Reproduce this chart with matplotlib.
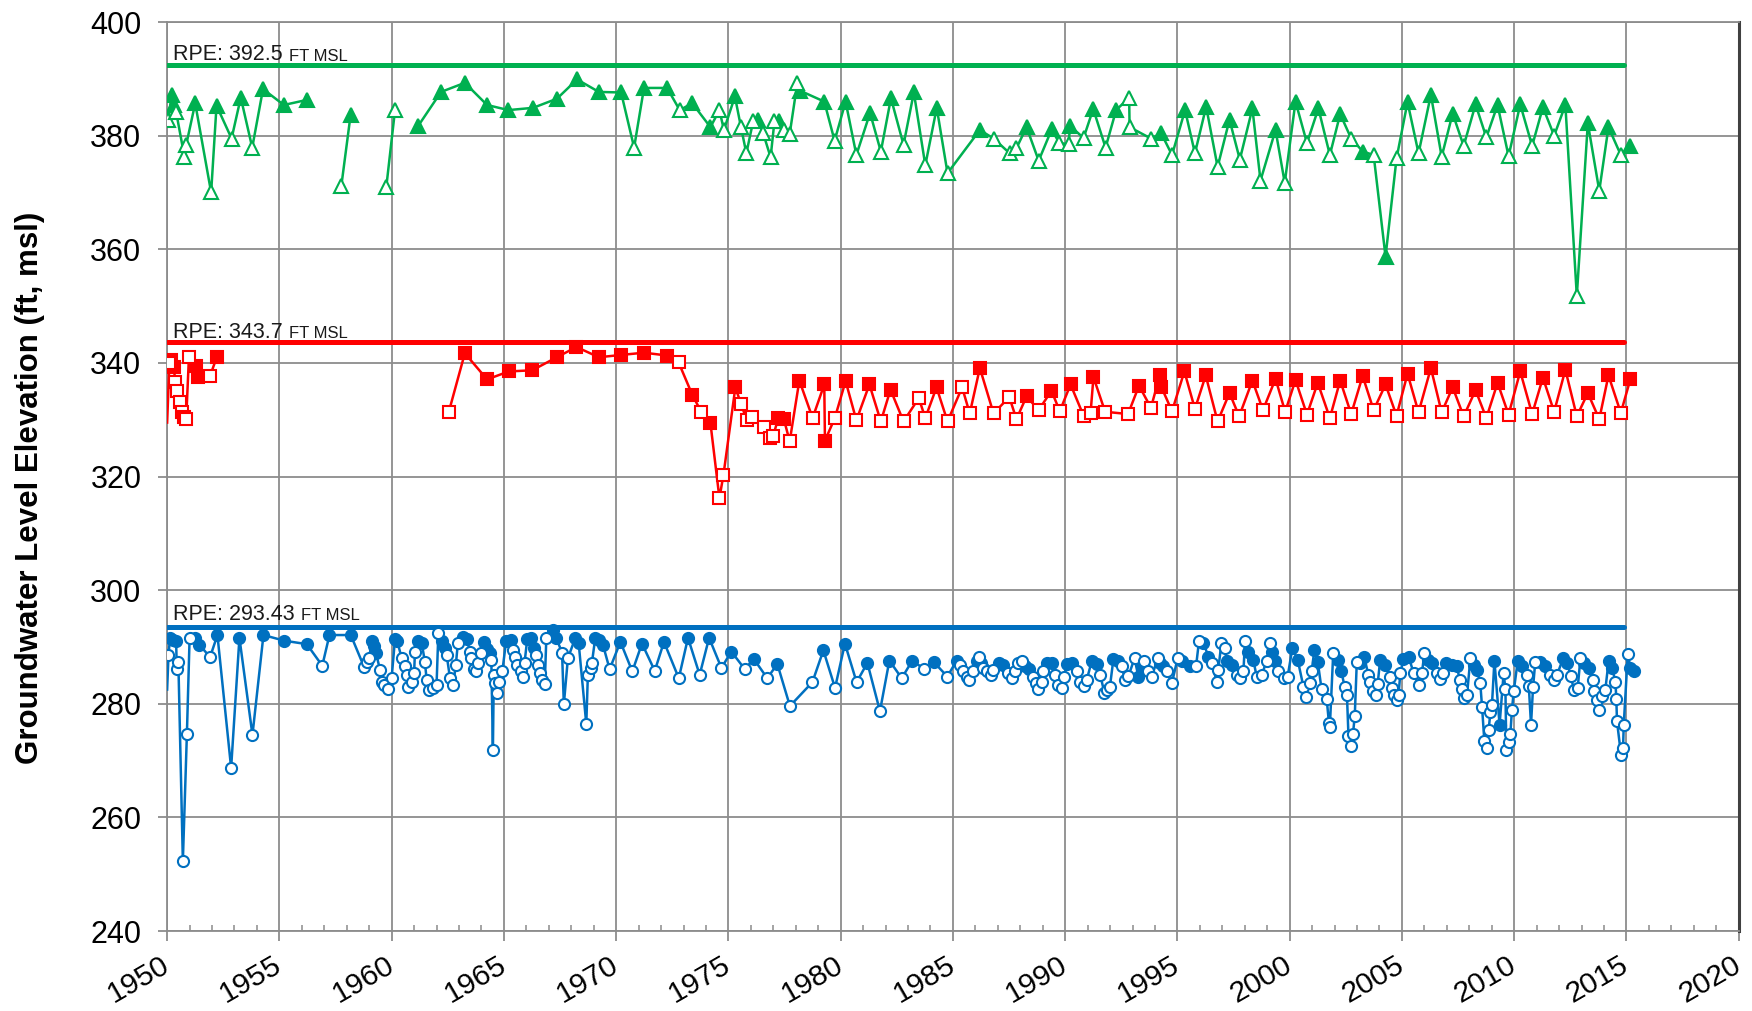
import numpy as np
import matplotlib
matplotlib.use("Agg")
import matplotlib.pyplot as plt
from matplotlib.ticker import MultipleLocator

plt.rcParams['font.family'] = ['Liberation Sans', 'DejaVu Sans']

# ---------------- data ----------------
NaN = float('nan')

green_year = [1950.05, 1950.2, 1950.3, 1950.4, 1950.77, 1950.85, 1951.25, 1951.96, 1952.2, 1952.87,
              1953.28, 1953.79, 1954.27, 1955.2, 1956.23, 1957.0,
              1957.76, 1958.17, 1959.0,
              1959.76, 1960.15, 1960.7,
              1961.18, 1962.2, 1963.26, 1964.25, 1965.2, 1966.3, 1967.36, 1968.26, 1969.23, 1970.22,
              1970.8, 1971.24, 1972.27, 1972.83, 1973.39, 1974.2, 1974.6, 1974.8, 1975.29, 1975.56,
              1975.8, 1976.1, 1976.3, 1976.55, 1976.88, 1977.05, 1977.27, 1977.47, 1977.73, 1978.07,
              1978.2, 1979.27, 1979.73, 1980.22, 1980.7, 1981.31, 1981.79, 1982.24, 1982.8, 1983.26,
              1983.77, 1984.28, 1984.76, 1986.2, 1986.81, 1987.53, 1987.83, 1988.28, 1988.82, 1989.4,
              1989.74, 1990.15, 1990.22, 1990.82, 1991.25, 1991.8, 1992.27, 1992.85, 1992.87, 1993.82,
              1994.28, 1994.76, 1995.34, 1995.78, 1996.28, 1996.79, 1997.32, 1997.78, 1998.34, 1998.7,
              1999.37, 1999.78, 2000.26, 2000.77, 2001.28, 2001.79, 2002.25, 2002.74, 2003.26, 2003.74,
              2004.27, 2004.76, 2005.25, 2005.74, 2006.29, 2006.77, 2007.26, 2007.75, 2008.28, 2008.76,
              2009.26, 2009.75, 2010.27, 2010.8, 2011.28, 2011.78, 2012.28, 2012.79, 2013.28, 2013.79,
              2014.2, 2014.75, 2015.18]
green_val = [382.8, 387.2, 385.4, 384.2, 376.3, 378.4, 385.7, 370.0, 385.3, 379.5,
             386.7, 377.9, 388.2, 385.4, 386.3, NaN,
             371.2, 383.6, NaN,
             370.9, 384.5, NaN,
             381.7, 387.7, 389.3, 385.4, 384.5, 384.9, 386.5, 389.9, 387.7, 387.6,
             377.9, 388.4, 388.4, 384.5, 385.7, 381.5, 384.5, 381.0, 386.9, 381.5,
             376.9, 382.5, 382.8, 380.4, 376.2, 382.5, 382.6, 381.0, 380.3, 389.3,
             387.9, 386.0, 379.1, 386.0, 376.6, 384.0, 377.2, 386.6, 378.4, 387.6,
             374.8, 384.9, 373.4, 381.0, 379.5, 376.9, 377.8, 381.5, 375.6, 381.1,
             378.7, 378.5, 381.7, 379.6, 384.7, 377.9, 384.5, 386.7, 381.5, 379.5,
             380.4, 376.6, 384.5, 376.9, 385.1, 374.5, 382.8, 375.8, 384.8, 372.1,
             381.0, 371.7, 386.0, 378.7, 384.8, 376.6, 383.8, 379.5, 377.2, 376.6,
             358.7, 376.0, 385.9, 376.9, 387.2, 376.3, 383.9, 378.2, 385.5, 379.7,
             385.4, 376.4, 385.5, 378.2, 385.0, 380.0, 385.4, 351.8, 382.2, 370.3,
             381.5, 376.6, 378.2]
# 1 = filled marker, 0 = open marker, -1 = no marker
green_fill = [0, 1, 1, 0, 0, 0, 1, 0, 1, 0,
              1, 0, 1, 1, 1, 0,
              0, 1, 0,
              0, 0, 0,
              1, 1, 1, 1, 1, 1, 1, 1, 1, 1,
              0, 1, 1, 0, 1, 1, 0, 0, 1, 0,
              0, 0, 1, 0, 0, 0, 1, 0, 0, 0,
              1, 1, 0, 1, 0, 1, 0, 1, 0, 1,
              0, 1, 0, 1, 0, 0, 0, 1, 0, 1,
              0, 0, 1, 0, 1, 0, 1, 0, 0, 0,
              1, 0, 1, 0, 1, 0, 1, 0, 1, 0,
              1, 0, 1, 0, 1, 0, 1, 0, 1, 0,
              1, 0, 1, 0, 1, 0, 1, 0, 1, 0,
              1, 0, 1, 0, 1, 0, 1, 0, 1, 0,
              1, 0, 1]

red_year = [1950.0, 1950.1, 1950.17, 1950.3, 1950.36, 1950.46, 1950.58, 1950.68, 1950.77, 1950.85,
            1950.97, 1951.28, 1951.37, 1951.91, 1952.22, 1957.0,
            1962.54, 1963.26, 1964.25, 1965.22, 1966.26, 1967.36, 1968.23, 1969.23, 1970.22, 1971.24,
            1972.27, 1972.78, 1973.39, 1973.8, 1974.2, 1974.6, 1974.78, 1975.31, 1975.56, 1975.82,
            1976.03, 1976.57, 1976.84, 1977.0, 1977.22, 1977.47, 1977.73, 1978.16, 1978.75, 1979.27,
            1979.3, 1979.74, 1980.22, 1980.7, 1981.28, 1981.79, 1982.22, 1982.8, 1983.48, 1983.77,
            1984.27, 1984.76, 1985.41, 1985.75, 1986.2, 1986.81, 1987.51, 1987.83, 1988.28, 1988.82,
            1989.39, 1989.76, 1990.24, 1990.82, 1991.13, 1991.26, 1991.78, 1992.8, 1993.29, 1993.82,
            1994.22, 1994.28, 1994.76, 1995.31, 1995.78, 1996.26, 1996.79, 1997.32, 1997.75, 1998.34,
            1998.81, 1999.37, 1999.8, 2000.26, 2000.77, 2001.25, 2001.79, 2002.25, 2002.74, 2003.25,
            2003.74, 2004.27, 2004.76, 2005.25, 2005.74, 2006.29, 2006.77, 2007.26, 2007.75, 2008.28,
            2008.76, 2009.26, 2009.75, 2010.27, 2010.8, 2011.28, 2011.78, 2012.28, 2012.79, 2013.28,
            2013.79, 2014.2, 2014.75, 2015.18]
red_val = [329.5, 340.0, 340.5, 339.2, 336.7, 335.0, 333.1, 331.3, 330.5, 330.2,
           341.0, 339.4, 337.5, 337.7, 341.1, NaN,
           331.3, 341.7, 337.1, 338.5, 338.7, 341.0, 342.8, 341.0, 341.4, 341.8,
           341.3, 340.1, 334.4, 331.3, 329.4, 316.2, 320.3, 335.7, 332.8, 329.9,
           330.4, 328.8, 326.7, 327.2, 330.3, 330.1, 326.2, 336.9, 330.3, 336.2,
           326.3, 330.3, 336.8, 329.9, 336.2, 329.7, 335.3, 329.7, 333.8, 330.3,
           335.7, 329.7, 335.7, 331.1, 339.1, 331.1, 334.0, 330.1, 334.1, 331.7,
           335.1, 331.5, 336.2, 330.7, 331.1, 337.5, 331.4, 331.0, 336.0, 332.1,
           337.9, 335.8, 331.5, 338.5, 331.9, 337.8, 329.7, 334.7, 330.6, 336.9,
           331.7, 337.2, 331.4, 337.0, 330.9, 336.5, 330.3, 336.9, 331.0, 337.7,
           331.7, 336.2, 330.7, 338.1, 331.3, 339.1, 331.3, 335.7, 330.6, 335.2,
           330.3, 336.5, 330.9, 338.5, 331.0, 337.4, 331.4, 338.8, 330.6, 334.7,
           330.1, 337.8, 331.2, 337.2]
red_fill = [-1, 0, 1, 1, 0, 0, 0, 0, 0, 0,
            0, 1, 1, 0, 1, 0,
            0, 1, 1, 1, 1, 1, 1, 1, 1, 1,
            1, 0, 1, 0, 1, 0, 0, 1, 0, 0,
            0, 0, 0, 0, 1, 1, 0, 1, 0, 1,
            1, 0, 1, 0, 1, 0, 1, 0, 0, 0,
            1, 0, 0, 0, 1, 0, 0, 0, 1, 0,
            1, 0, 1, 0, 0, 1, 0, 0, 1, 0,
            1, 1, 0, 1, 0, 1, 0, 1, 0, 1,
            0, 1, 0, 1, 0, 1, 0, 1, 0, 1,
            0, 1, 0, 1, 0, 1, 0, 1, 0, 1,
            0, 1, 0, 1, 0, 1, 0, 1, 0, 1,
            0, 1, 0, 1]

blue_year = [1950.0, 1950.06, 1950.13, 1950.28, 1950.4, 1950.43, 1950.5, 1950.7, 1950.88, 1951.0,
             1951.25, 1951.44, 1951.91, 1952.24, 1952.85, 1953.22, 1953.8, 1954.29, 1955.22, 1956.22,
             1956.91, 1957.23, 1958.18, 1958.77, 1958.89, 1959.0, 1959.11, 1959.2, 1959.3, 1959.48,
             1959.55, 1959.66, 1959.85, 1960.0, 1960.15, 1960.25, 1960.45, 1960.6, 1960.67, 1960.74,
             1960.89, 1961.0, 1961.04, 1961.19, 1961.34, 1961.48, 1961.56, 1961.68, 1961.85, 1962.0,
             1962.08, 1962.23, 1962.37, 1962.45, 1962.6, 1962.74, 1962.86, 1962.95,
             1963.17, 1963.37, 1963.47, 1963.54, 1963.69, 1963.77, 1963.84, 1963.96, 1964.11, 1964.26,
             1964.36, 1964.44, 1964.51, 1964.55, 1964.62, 1964.7, 1964.8, 1964.93, 1965.1, 1965.3,
             1965.4, 1965.5, 1965.59, 1965.74, 1965.85, 1965.92, 1966.04, 1966.19, 1966.34, 1966.44,
             1966.52, 1966.6, 1966.7, 1966.82, 1966.89, 1967.18, 1967.33, 1967.59, 1967.67, 1967.85,
             1968.18, 1968.33, 1968.67, 1968.74, 1968.86, 1968.92, 1969.07, 1969.22, 1969.41, 1969.71,
             1970.19, 1970.72, 1971.15, 1971.72, 1972.13, 1972.79, 1973.2, 1973.72, 1974.14, 1974.69,
             1975.13, 1975.73, 1976.13, 1976.73, 1977.18, 1977.74, 1978.74, 1979.23, 1979.75, 1980.19,
             1980.71, 1981.19, 1981.75, 1982.17, 1982.72, 1983.19, 1983.73, 1984.16, 1984.75, 1985.17,
             1985.32, 1985.47, 1985.62, 1985.7, 1985.88, 1986.06, 1986.14, 1986.24, 1986.36, 1986.54,
             1986.69, 1986.8, 1987.07, 1987.25, 1987.47, 1987.62, 1987.77, 1987.92, 1988.07, 1988.22,
             1988.41, 1988.56, 1988.71, 1988.81, 1988.96, 1989.03, 1989.21, 1989.41, 1989.55, 1989.7,
             1989.85, 1989.97,
             1990.07, 1990.3, 1990.52, 1990.67, 1990.82, 1990.96, 1991.19, 1991.41, 1991.56, 1991.75,
             1991.85, 1991.99, 1992.15, 1992.34, 1992.52, 1992.67, 1992.82, 1993.09, 1993.26, 1993.41,
             1993.53, 1993.68, 1993.86, 1994.12, 1994.23, 1994.38, 1994.53, 1994.75, 1995.01, 1995.22,
             1995.56, 1995.83, 1995.96, 1996.16, 1996.38, 1996.53, 1996.75, 1996.82, 1996.96, 1997.11,
             1997.2, 1997.42, 1997.64, 1997.79, 1997.94, 1998.01, 1998.16, 1998.38, 1998.53, 1998.75,
             1998.98, 1999.12, 1999.2, 1999.35, 1999.5, 1999.76, 1999.91, 2000.12, 2000.36, 2000.61,
             2000.71, 2000.9, 2000.98, 2001.1, 2001.25, 2001.42, 2001.65, 2001.75, 2001.79, 2001.94,
             2002.17, 2002.3, 2002.45, 2002.55, 2002.62, 2002.72, 2002.82, 2002.9, 2002.99,
             2003.14, 2003.32, 2003.51, 2003.58, 2003.73, 2003.86, 2003.92, 2004.03, 2004.26, 2004.48,
             2004.55, 2004.66, 2004.78, 2004.85, 2004.93, 2005.07, 2005.3, 2005.52, 2005.74, 2005.89,
             2006.0, 2006.14, 2006.34, 2006.56, 2006.71, 2006.83, 2006.98, 2007.23, 2007.45, 2007.57,
             2007.67, 2007.78, 2007.9, 2008.05, 2008.19, 2008.34, 2008.49, 2008.57, 2008.67, 2008.77,
             2008.86, 2008.94, 2009.01, 2009.12, 2009.35, 2009.53, 2009.61, 2009.65, 2009.75, 2009.83,
             2009.9, 2009.98, 2010.16, 2010.35, 2010.57, 2010.65, 2010.75, 2010.84, 2010.94, 2011.17,
             2011.39, 2011.61, 2011.76, 2011.91, 2012.18, 2012.35, 2012.53, 2012.65, 2012.83, 2012.95,
             2013.13, 2013.32, 2013.51, 2013.57, 2013.69, 2013.77, 2013.92, 2014.06, 2014.21, 2014.36,
             2014.51, 2014.55, 2014.58, 2014.76, 2014.85, 2014.88, 2015.06, 2015.18, 2015.33]
blue_val = [282.5, 288.6, 291.6, 291.3, 291.0, 286.1, 287.3, 252.3, 274.7, 291.6,
            291.6, 290.4, 288.2, 292.1, 268.7, 291.6, 274.5, 292.1, 291.1, 290.5,
            286.7, 292.1, 292.1, 286.5, 287.4, 288.0, 291.0, 290.2, 289.0, 286.0,
            283.9, 283.3, 282.6, 284.6, 291.4, 291.0, 288.0, 286.6, 285.1, 283.0,
            283.9, 285.5, 289.2, 291.1, 290.7, 287.4, 284.2, 282.5, 282.8, 283.3,
            292.4, 291.0, 289.8, 288.6, 284.5, 283.3, 286.9, 290.7,
            291.8, 291.4, 289.2, 288.0, 286.2, 285.7, 287.2, 288.9, 290.8, 289.6,
            288.9, 287.7, 271.8, 285.1, 283.6, 281.9, 283.9, 285.7, 291.1, 291.2,
            289.5, 288.3, 286.9, 285.7, 284.8, 287.2, 291.4, 291.6, 289.8, 288.6,
            286.9, 285.4, 284.2, 283.5, 291.6, 293.0, 291.6, 289.0, 279.9, 288.0,
            291.6, 290.7, 276.4, 285.1, 286.3, 287.2, 291.6, 291.3, 290.4, 286.1,
            290.9, 285.7, 290.6, 285.8, 290.9, 284.5, 291.6, 285.1, 291.6, 286.3,
            289.2, 286.1, 287.9, 284.5, 287.0, 279.6, 283.8, 289.4, 282.8, 290.6,
            283.8, 287.2, 278.7, 287.6, 284.5, 287.6, 286.1, 287.3, 284.8, 287.6,
            286.9, 285.7, 284.8, 284.2, 285.7, 287.6, 288.3, 287.2, 286.3, 285.7,
            285.1, 286.0, 287.2, 286.9, 285.4, 284.5, 285.7, 287.2, 287.5, 286.6,
            286.1, 284.8, 283.6, 282.6, 283.9, 285.7, 287.2, 287.2, 285.1, 283.3,
            282.8, 284.8,
            287.0, 287.2, 285.7, 283.9, 283.2, 284.2, 287.6, 287.0, 285.1, 281.9,
            282.5, 282.9, 287.9, 287.6, 286.6, 284.2, 284.9, 288.0, 284.8, 286.6,
            287.5, 285.7, 284.8, 288.0, 287.2, 286.6, 285.7, 283.6, 288.0, 287.5,
            286.6, 286.6, 291.0, 290.7, 288.3, 287.2, 283.9, 286.0, 290.7, 289.8,
            287.5, 286.9, 285.1, 284.5, 285.7, 291.0, 289.2, 287.7, 284.8, 285.1,
            287.5, 290.7, 289.2, 287.5, 285.7, 284.5, 284.8, 289.8, 287.7, 283.0,
            281.2, 283.6, 285.7, 289.5, 287.4, 282.6, 280.8, 276.6, 276.0, 288.9,
            287.7, 285.7, 283.0, 281.6, 274.3, 272.6, 274.7, 277.9, 287.4,
            287.2, 288.2, 285.1, 283.9, 282.3, 281.6, 283.5, 287.7, 286.9, 284.8,
            282.8, 281.6, 280.7, 281.6, 285.4, 287.9, 288.3, 285.4, 283.3, 285.4,
            288.9, 287.7, 287.2, 285.4, 284.3, 285.4, 287.2, 286.9, 286.7, 284.2,
            282.6, 281.0, 281.6, 288.0, 286.9, 286.0, 283.6, 279.4, 273.5, 272.3,
            275.3, 278.5, 279.8, 287.6, 276.3, 285.4, 282.6, 271.9, 273.2, 274.7,
            278.9, 282.2, 287.6, 286.6, 285.1, 283.2, 276.3, 282.9, 287.4, 287.4,
            286.6, 285.1, 284.2, 285.1, 288.0, 287.2, 284.9, 282.5, 282.8, 288.0,
            287.2, 286.3, 284.1, 282.2, 280.7, 278.9, 281.3, 282.5, 287.6, 286.3,
            283.9, 280.8, 276.9, 271.0, 272.2, 276.3, 288.8, 286.3, 285.7]
blue_fill = [-1, 0, 1, 1, 1, 0, 0, 0, 0, 0,
             1, 1, 0, 1, 0, 1, 0, 1, 1, 1,
             0, 1, 1, 0, 0, 0, 1, 1, 1, 0,
             0, 0, 0, 0, 1, 1, 0, 0, 0, 0,
             0, 0, 0, 1, 1, 0, 0, 0, 0, 0,
             0, 1, 1, 0, 0, 0, 0, 0,
             1, 1, 0, 0, 0, 0, 0, 0, 1, 1,
             1, 0, 0, 0, 0, 0, 0, 0, 1, 1,
             0, 0, 0, 0, 0, 0, 1, 1, 1, 0,
             0, 0, 0, 0, 0, 1, 1, 0, 0, 0,
             1, 1, 0, 0, 0, 0, 1, 1, 1, 0,
             1, 0, 1, 0, 1, 0, 1, 0, 1, 0,
             1, 0, 1, 0, 1, 0, 0, 1, 0, 1,
             0, 1, 0, 1, 0, 1, 0, 1, 0, 1,
             0, 0, 0, 0, 0, 1, 0, 1, 0, 0,
             0, 0, 1, 1, 0, 0, 0, 0, 0, 1,
             1, 0, 0, 0, 0, 0, 1, 1, 0, 0,
             0, 0,
             1, 1, 0, 0, 0, 0, 1, 1, 0, 0,
             0, 0, 1, 1, 0, 0, 0, 0, 1, 1,
             0, 0, 0, 0, 1, 1, 0, 0, 0, 1,
             1, 0, 0, 1, 1, 0, 0, 0, 0, 0,
             1, 1, 0, 0, 0, 0, 1, 1, 0, 0,
             0, 0, 1, 1, 0, 0, 0, 1, 1, 0,
             0, 0, 0, 1, 1, 0, 0, 0, 0, 0,
             1, 1, 0, 0, 0, 0, 0, 0, 0,
             1, 1, 0, 0, 0, 0, 0, 1, 1, 0,
             0, 0, 0, 0, 0, 1, 1, 0, 0, 0,
             0, 1, 1, 0, 0, 0, 1, 1, 1, 0,
             0, 0, 0, 0, 1, 1, 0, 0, 0, 0,
             0, 0, 0, 1, 1, 0, 0, 0, 0, 0,
             0, 0, 1, 1, 0, 0, 0, 0, 0, 1,
             1, 0, 0, 0, 1, 1, 0, 0, 0, 0,
             1, 1, 0, 0, 0, 0, 0, 0, 1, 1,
             0, 0, 0, 0, 0, 0, 0, 1, 1]

rpe_values = [392.5, 343.7, 293.43]
rpe_labels = ["RPE: 392.5", "RPE: 343.7", "RPE: 293.43"]
rpe_unit = "FT MSL"
rpe_start, rpe_end = 1950.0, 2014.9

x_ticks = list(range(1950, 2021, 5))
y_ticks = list(range(240, 401, 20))
y_label = "Groundwater Level Elevation (ft, msl)"

# ---------------- plot ----------------
GREEN, RED, BLUE = '#00B050', '#FF0000', '#0070C0'
GRID = '#8C8C8C'

fig = plt.figure(figsize=(17.52, 10.11), dpi=100)
ax = fig.add_axes([0.0954, 0.0791, 0.8970, 0.8991])

series = [
    (green_year, green_val, green_fill, GREEN, '^', 10.5),
    (red_year, red_val, red_fill, RED, 's', 8.0),
    (blue_year, blue_val, blue_fill, BLUE, 'o', 8.0),
]

for (yrs, vals, fills, col, mk, ms), rv, rl in zip(series, rpe_values, rpe_labels):
    ax.plot([rpe_start, rpe_end], [rv, rv], color=col, lw=3.6, solid_capstyle='round', zorder=3)
    t = ax.text(1950.28, rv + 0.75 + (0.6 if rv < 300 else 0), rl, fontsize=15.5, va='baseline',
                ha='left', color='#1a1a1a', zorder=6)
    ax.annotate(rpe_unit, xy=(1, 0), xycoords=t, xytext=(4, 1), textcoords='offset points',
                fontsize=12, va='bottom', ha='left', color='#1a1a1a', zorder=6)

    yrs = np.array(yrs, dtype=float)
    vals = np.array(vals, dtype=float)
    fl = np.array(fills)
    ok = ~np.isnan(vals)
    ax.plot(yrs, vals, color=col, lw=1.8, zorder=4)
    sel = (fl == 1) & ok
    ax.plot(yrs[sel], vals[sel], ls='none', marker=mk, ms=ms, mfc=col, mec=col, mew=1.5, zorder=5)
    sel = (fl == 0) & ok
    ax.plot(yrs[sel], vals[sel], ls='none', marker=mk, ms=ms, mfc='white', mec=col, mew=1.5, zorder=5)

ax.set_xlim(1950, 2020)
ax.set_ylim(240, 400)
ax.set_xticks(x_ticks)
ax.set_yticks(y_ticks)
ax.xaxis.set_minor_locator(MultipleLocator(1))
ax.grid(True, which='major', color=GRID, lw=1.3, zorder=0)
ax.set_axisbelow(True)

for s in ['left', 'bottom', 'top']:
    ax.spines[s].set_color(GRID)
    ax.spines[s].set_linewidth(1.3)
ax.spines['right'].set_color('#404040')
ax.spines['right'].set_linewidth(2.2)

ax.tick_params(axis='y', which='major', direction='out', length=6.5, width=1.3, color=GRID,
               labelsize=22, pad=12)
ax.tick_params(axis='x', which='major', direction='out', length=7, width=1.3, color=GRID,
               labelsize=21.5, pad=16)
ax.tick_params(axis='x', which='minor', direction='in', length=4.5, width=1.1, color=GRID)
for lab in ax.get_xticklabels():
    lab.set_rotation(30)
    lab.set_ha('right')
    lab.set_va('center')
    lab.set_rotation_mode('anchor')

ax.set_ylabel(y_label, fontsize=22.5, fontweight='bold')
ax.yaxis.set_label_coords(-0.078, 0.487)

fig.savefig('out.png', dpi=100, facecolor='white')
